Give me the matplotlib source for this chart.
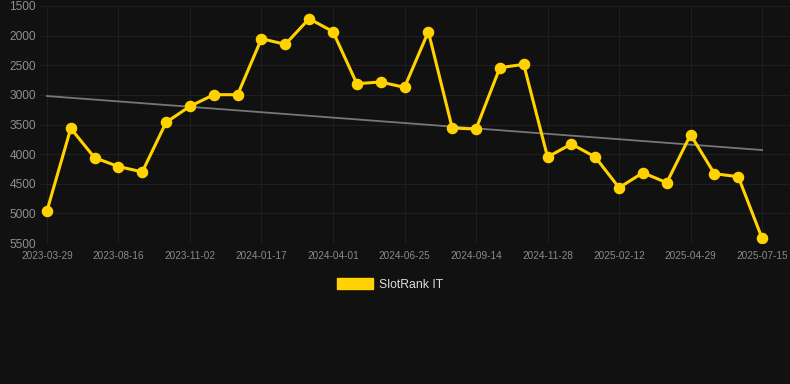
import matplotlib
matplotlib.use("Agg")
import matplotlib.pyplot as plt
from matplotlib.patches import Patch

dates = ["2023-03-29", "", "", "2023-08-16", "", "", "2023-11-02", "", "", "2024-01-17",
         "", "", "2024-04-01", "", "", "2024-06-25", "", "", "2024-09-14", "", "",
         "2024-11-28", "", "", "2025-02-12", "", "", "2025-04-29", "", "", "2025-07-15"]
rank = [4960, 3565, 4060, 4210, 4300, 3463, 3193, 2997, 2997, 2052,
        2147, 1714, 1933, 2811, 2783, 2873, 1933, 3559, 3576, 2541,
        2485, 4049, 3829, 4049, 4567, 4314, 4482, 3672, 4331, 4381, 5422]
trend_ends = [3019, 3931]
yticks = [1500, 2000, 2500, 3000, 3500, 4000, 4500, 5000, 5500]
series_name = "SlotRank IT"

plt.rcParams['font.family'] = ['Liberation Sans', 'DejaVu Sans']
bg = "#111111"
fig = plt.figure(figsize=(7.9, 3.84), dpi=100, facecolor=bg)
ax = fig.add_axes([40/790, 1-243/384, 750/790, 237/384], facecolor=bg)

x = list(range(len(rank)))
ax.plot([x[0], x[-1]], trend_ends, color="#777777", lw=1.3, zorder=2)
ax.plot(x, rank, color="#FFD200", lw=2.2, marker="o", ms=7.3, zorder=3)

ax.set_ylim(5500, 1500)
ax.set_yticks(yticks)
ax.set_xlim(-0.29, 31.17)
tick_idx = [i for i, d in enumerate(dates) if d]
ax.set_xticks(tick_idx)
ax.set_xticklabels([dates[i] for i in tick_idx])
ax.grid(True, color="#1f1f1f", lw=0.8)
for s in ax.spines.values():
    s.set_visible(False)
ax.tick_params(axis="y", length=0, pad=3, labelsize=8.6, labelcolor="#8f8f8f")
ax.tick_params(axis="x", length=0, pad=6, labelsize=7.2, labelcolor="#8a8a8a")

leg = fig.legend(handles=[Patch(facecolor="#FFD200", edgecolor="#FFD200", label=series_name)],
                 loc="center", bbox_to_anchor=(390/790, 1-284.5/384), frameon=False,
                 handlelength=3.0, handleheight=0.9, handletextpad=0.5, fontsize=8.8)
for t in leg.get_texts():
    t.set_color("#dddddd")

fig.savefig("out.png", dpi=100, facecolor=bg)
